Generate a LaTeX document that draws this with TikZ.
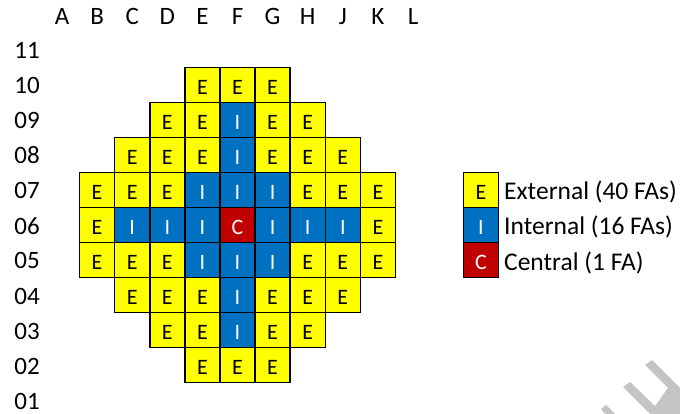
\documentclass[tikz,border=0pt]{standalone}
\usepackage{fontspec}
\setmainfont{Carlito}
\definecolor{extY}{HTML}{FFFF00}
\definecolor{intB}{HTML}{0070C0}
\definecolor{cenR}{HTML}{C00000}
\definecolor{wmGray}{HTML}{C4C4C4}
\begin{document}
\begin{tikzpicture}[x=1pt,y=-1pt,
  cellbox/.style={draw=black, line width=1.5pt, minimum width=35.1pt, minimum height=35pt,
    inner sep=0pt, outer sep=0pt, anchor=center, font=\fontsize{22}{22}\selectfont},
  ext/.style={cellbox, fill=extY, text=black, node contents=\raisebox{-2.3pt}[\height][\depth]{E}},
  int/.style={cellbox, fill=intB, text=white, node contents=\raisebox{-2.3pt}[\height][\depth]{I}},
  cen/.style={cellbox, fill=cenR, text=white, node contents=\raisebox{-2.3pt}[\height][\depth]{C}},
  lab/.style={font=\fontsize{25}{25}\selectfont, inner sep=0pt, anchor=base},
  leg/.style={font=\fontsize{25.5}{25.5}\selectfont, inner sep=0pt, anchor=base west}]
\useasboundingbox (0,0) rectangle (680,414);
% column letters
\foreach \L [count=\i from 0] in {A,B,C,D,E,F,G,H,J,K,L}
  \node[lab] (col-\L) at ({62+35.1*\i},25) {\L};
% row numbers
\foreach \R [count=\i from 0] in {11,10,09,08,07,06,05,04,03,02,01}
  \node[lab] (row-\R) at (27,{59+35*\i}) {\R};
% core cells
\foreach \r/\s/\types in {
  10/4/{ext,ext,ext},
  9/3/{ext,ext,int,ext,ext},
  8/2/{ext,ext,ext,int,ext,ext,ext},
  7/1/{ext,ext,ext,int,int,int,ext,ext,ext},
  6/1/{ext,int,int,int,cen,int,int,int,ext},
  5/1/{ext,ext,ext,int,int,int,ext,ext,ext},
  4/2/{ext,ext,ext,int,ext,ext,ext},
  3/3/{ext,ext,int,ext,ext},
  2/4/{ext,ext,ext}}
{
  \foreach \t [count=\k from 0] in \types {
    \pgfmathsetmacro\cx{62+35.1*(\s+\k)}
    \pgfmathsetmacro\cy{85+35*(10-\r)}
    \node (cell-\r-\k) at (\cx,\cy) [\t];
  }
}
% legend
\node (leg-e) at (481,190) [ext];
\node (leg-i) at (481,225) [int];
\node (leg-c) at (481,260) [cen];
\node[leg] (leg-e-txt) at (504,200) {External (40 FAs)};
\node[leg] (leg-i-txt) at (504,235) {Internal (16 FAs)};
\node[leg] (leg-c-txt) at (504,270) {Central (1 FA)};
% watermark fragment
\fill[wmGray] (630,382) -- (623,387) -- (650,414) -- (680,414) -- (680,388)
  -- (652,360) -- (645,365) -- (668,388) -- (655,406) -- cycle;
\fill[wmGray] (601,409) -- (606,405) -- (615,414) -- (605,414) -- cycle;
\end{tikzpicture}
\end{document}
